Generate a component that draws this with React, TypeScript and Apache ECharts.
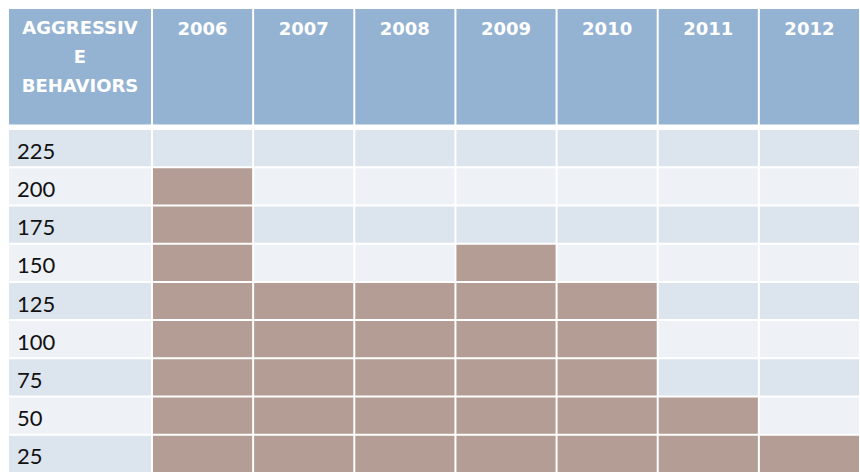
import React, { useEffect, useRef } from "react";
import * as echarts from "echarts";

const years = ["2006", "2007", "2008", "2009", "2010", "2011", "2012"];
const yearValues = [200, 125, 125, 150, 125, 50, 25];
const rowLevels = [25, 50, 75, 100, 125, 150, 175, 200, 225];
const cornerTitle = "AGGRESSIV\nE\nBEHAVIORS";

const HEADER = "#94B3D2";
const DARK = "#DCE4EE";
const LIGHT = "#EEF2F7";
const FILL = "#B39D95";

export default function App() {
  const ref = useRef<HTMLDivElement>(null);
  useEffect(() => {
    if (!ref.current) return;
    const chart = echarts.init(ref.current, undefined, { renderer: "svg" });

    const bodyData: number[][] = [];
    years.forEach((_, i) => {
      rowLevels.forEach((lv, j) => {
        bodyData.push([i, j, yearValues[i] >= lv ? 1 : 0]);
      });
    });
    const rowData = rowLevels.map((lv, j) => [0, j, lv]);
    const headData = years.map((_, i) => [i, 0]);

    const rowColor = (j: number) => (j % 2 === 0 ? DARK : LIGHT);

    chart.setOption({
      animation: false,
      backgroundColor: "#ffffff",
      grid: { left: 152, top: 129, width: 719.6, height: 348.75 },
      xAxis: { type: "category", data: years, show: false },
      yAxis: { type: "category", data: rowLevels.map(String), show: false },
      series: [
        {
          type: "custom",
          data: bodyData,
          renderItem: (params: any, api: any) => {
            const x = api.value(0);
            const y = api.value(1);
            const f = api.value(2);
            const c = api.coord([x, y]);
            const s = api.size([1, 1]);
            return {
              type: "rect",
              shape: { x: c[0] - s[0] / 2 + 1, y: c[1] - s[1] / 2 + 1, width: s[0] - 2, height: s[1] - 2 },
              style: { fill: f ? FILL : rowColor(y) },
            };
          },
        },
        {
          type: "custom",
          data: rowData,
          renderItem: (params: any, api: any) => {
            const j = api.value(1);
            const c = api.coord([0, j]);
            const s = api.size([1, 1]);
            const cs = params.coordSys;
            return {
              type: "group",
              children: [
                {
                  type: "rect",
                  shape: { x: cs.x - 143, y: c[1] - s[1] / 2 + 1, width: 142, height: s[1] - 2 },
                  style: { fill: rowColor(j) },
                },
                {
                  type: "text",
                  style: {
                    text: String(rowLevels[j]),
                    x: cs.x - 135,
                    y: c[1] + 2,
                    fill: "#111111",
                    fontSize: 22,
                    fontFamily: "Lato",
                    align: "left",
                    verticalAlign: "middle",
                  },
                },
              ],
            };
          },
        },
        {
          type: "custom",
          data: headData,
          renderItem: (params: any, api: any) => {
            const i = api.value(0);
            const c = api.coord([i, 0]);
            const s = api.size([1, 1]);
            const cs = params.coordSys;
            const children: any[] = [
              {
                type: "rect",
                shape: { x: c[0] - s[0] / 2 + 1, y: cs.y - 120, width: s[0] - 2, height: 115.5 },
                style: { fill: HEADER },
              },
              {
                type: "text",
                style: {
                  text: years[i],
                  x: c[0],
                  y: cs.y - 101,
                  fill: "#ffffff",
                  fontSize: 18,
                  fontWeight: "bold",
                  fontFamily: "DejaVu Sans",
                  align: "center",
                  verticalAlign: "middle",
                },
              },
            ];
            if (i === 0) {
              children.push(
                {
                  type: "rect",
                  shape: { x: cs.x - 143, y: cs.y - 120, width: 142, height: 115.5 },
                  style: { fill: HEADER },
                },
                {
                  type: "text",
                  style: {
                    text: cornerTitle,
                    x: cs.x - 72,
                    y: cs.y - 72.5,
                    fill: "#ffffff",
                    fontSize: 18,
                    fontWeight: "bold",
                    fontFamily: "DejaVu Sans",
                    lineHeight: 29,
                    align: "center",
                    verticalAlign: "middle",
                  },
                }
              );
            }
            return { type: "group", children };
          },
        },
      ],
    });
    return () => chart.dispose();
  }, []);
  return (
    <div
      ref={ref}
      style={{ position: "absolute", left: 0, top: 0, width: 860, height: 473 }}
    />
  );
}
